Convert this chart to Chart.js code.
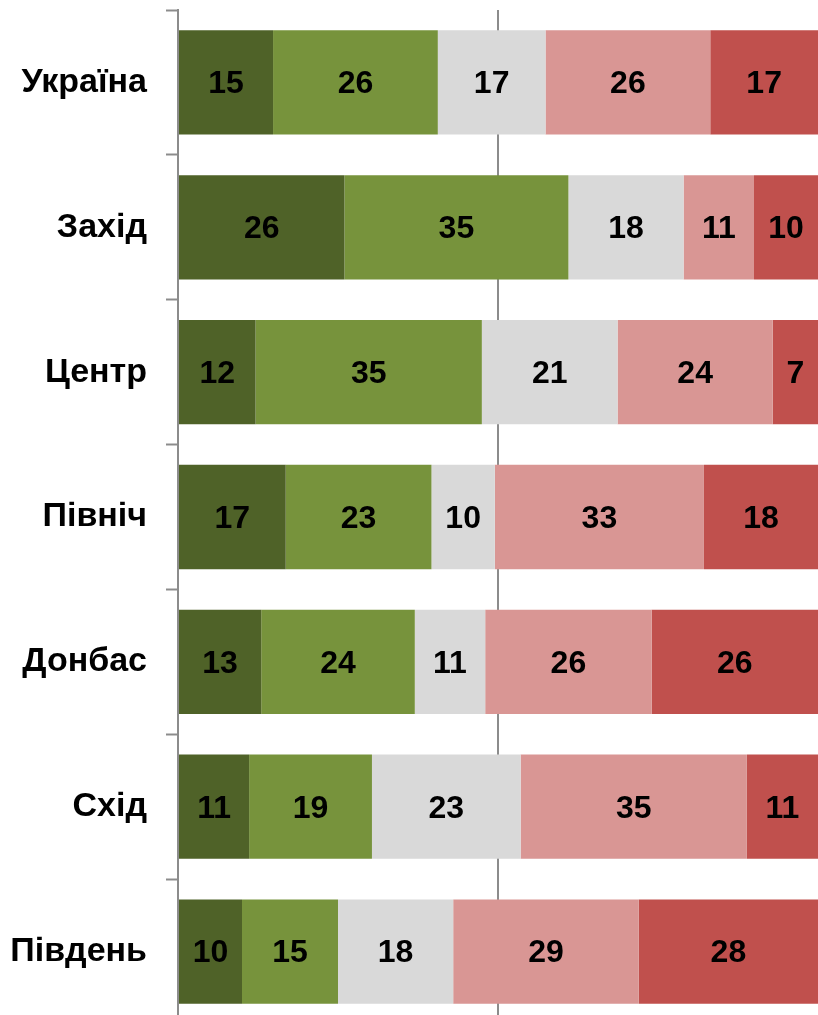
<!DOCTYPE html>
<html>
<head>
<meta charset="utf-8">
<script src="https://cdn.jsdelivr.net/npm/chart.js@4"></script>
<style>
    html, body { margin: 0; padding: 0; background: #fff; overflow: hidden; }
    #wrap { position: relative; width: 818px; height: 1024px; }
</style>
</head>
<body>
<div id="wrap"><canvas id="chart"></canvas></div>
<script>
// Regions and answer shares (%), as printed on the bars
const regions = ['Україна', 'Захід', 'Центр', 'Північ', 'Донбас', 'Схід', 'Південь'];
const seriesNames = ['Цілком так', 'Скоріше так', 'Важко сказати', 'Скоріше ні', 'Цілком ні'];
const darkGreen = [15, 26, 12, 17, 13, 11, 10];
const green     = [26, 35, 35, 23, 24, 19, 15];
const grey      = [17, 18, 21, 10, 11, 23, 18];
const pink      = [26, 11, 24, 33, 26, 35, 29];
const red       = [17, 10, 7, 18, 26, 11, 28];
const colors = ['#4F6228', '#77933C', '#D9D9D9', '#D99694', '#C0504D'];

const series = [darkGreen, green, grey, pink, red];

// 100% stacked: each row is scaled to its own total
const totals = regions.map((_, i) => series.reduce((s, arr) => s + arr[i], 0));

const datasets = series.map((arr, k) => ({
    label: seriesNames[k],
    data: arr.map((v, i) => v / totals[i] * 100),
    raw: arr,
    backgroundColor: colors[k],
    borderWidth: 0,
    categoryPercentage: 1,
    barPercentage: 0.72
}));

// draws the printed values in the middle of each segment
const valueLabels = {
    id: 'valueLabels',
    afterDatasetsDraw(chart) {
        const ctx = chart.ctx;
        ctx.save();
        ctx.font = 'bold 32px "Liberation Sans", Arial, sans-serif';
        ctx.fillStyle = '#000';
        ctx.textAlign = 'center';
        ctx.textBaseline = 'middle';
        chart.data.datasets.forEach((ds, k) => {
            chart.getDatasetMeta(k).data.forEach((bar, i) => {
                const x = (bar.x + bar.base) / 2;
                ctx.fillText(String(ds.raw[i]), x, bar.y + 2);
            });
        });
        ctx.restore();
    }
};

new Chart(document.getElementById('chart'), {
    type: 'bar',
    data: { labels: regions, datasets: datasets },
    options: {
        indexAxis: 'y',
        responsive: true,
        maintainAspectRatio: false,
        animation: false,
        layout: { padding: { top: 10, bottom: 0, left: 0, right: 0 } },
        plugins: {
            legend: { display: false },
            tooltip: { enabled: false }
        },
        scales: {
            x: {
                stacked: true,
                min: 0,
                max: 100,
                ticks: { display: false, stepSize: 50 },
                border: { display: false },
                grid: {
                    drawTicks: false,
                    lineWidth: 2,
                    color: c => (c.tick && c.tick.value === 50) ? '#8c8c8c' : 'rgba(0,0,0,0)'
                },
                afterFit: axis => { axis.height = 0; axis.paddingLeft = 0; axis.paddingRight = 0; }
            },
            y: {
                stacked: true,
                ticks: {
                    color: '#000',
                    padding: 19,
                    font: { family: '"Liberation Sans", Arial, sans-serif', size: 34, weight: 'bold' }
                },
                border: { display: true, color: '#8c8c8c', width: 2 },
                grid: {
                    offset: true,
                    drawOnChartArea: false,
                    drawTicks: true,
                    tickLength: 12,
                    tickWidth: 2,
                    tickColor: '#8c8c8c'
                },
                afterFit: axis => { axis.width = 178; axis.paddingTop = 0; axis.paddingBottom = 0; }
            }
        }
    },
    plugins: [valueLabels]
});
</script>
</body>
</html>
